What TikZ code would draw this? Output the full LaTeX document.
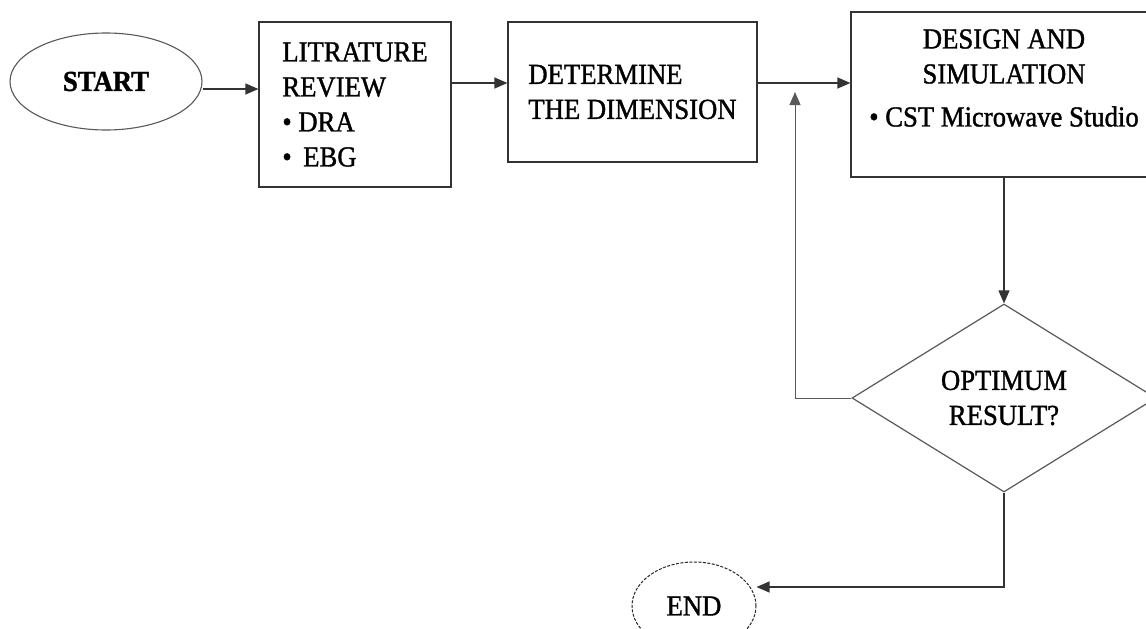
\documentclass[tikz,border=0pt]{standalone}
\usepackage{fontspec}
\setmainfont{Liberation Serif}[FakeStretch=0.92,FakeBold=1.2]
\usetikzlibrary{shapes.geometric,arrows.meta}
\tikzset{
  box/.style={draw=black!80,line width=1.2pt,inner sep=0pt,align=left},
  oval/.style={ellipse,draw=black!65,line width=1.1pt,inner sep=0pt},
  decision/.style={diamond,draw=black!65,line width=1.2pt,inner sep=0pt,align=center},
  flow/.style={draw=black!80,line width=1.2pt,-{Triangle[length=13pt,width=11pt]}},
}
\begin{document}
\begin{tikzpicture}[x=1pt,y=-1pt,font=\fontsize{29}{35}\selectfont]
\useasboundingbox (0,0) rectangle (1146,629);
\fill[white] (0,0) rectangle (1146,629);
% blocks
\node[oval,minimum width=192pt,minimum height=97pt] (start) at (106,81.5) {\textbf{START}};
\node[box,minimum width=192pt,minimum height=165pt] (lit) at (355,104.5) {LITRATURE\\REVIEW\\\textbullet\ DRA\\\textbullet\ \,EBG};
\node[box,minimum width=249pt,minimum height=140pt] (det) at (632.5,92) {DETERMINE\\THE DIMENSION};
\node[box,minimum width=306pt,minimum height=165pt] (des) at (1004,94.5) {};
\node[align=center,inner sep=0pt] (destext) at (1004,78) {DESIGN AND\\SIMULATION\\[8pt]\textbullet\ CST Microwave Studio};
\node[decision,minimum width=304pt,minimum height=188pt] (opt) at (1004,398) {OPTIMUM\\RESULT?};
\node[oval,draw=black!85,line width=1pt,dash pattern=on 3pt off 1.5pt,minimum width=124pt,minimum height=88pt] (finish) at (694,606) {END};
% arrows
\draw[flow] (start.east |- 0,89) -- (lit.west |- 0,89);
\draw[flow] (lit.east |- 0,83) -- (det.west |- 0,83);
\draw[flow] (det.east |- 0,83) -- (des.west |- 0,83);
\draw[flow] (des.south) -- (opt.north);
\coordinate (loop) at (795,92);
\draw[flow,draw=black!65,line width=1pt] (opt.west) -| (loop);
\draw[flow] (opt.south) |- (finish.east |- 0,587);
\end{tikzpicture}
\end{document}
